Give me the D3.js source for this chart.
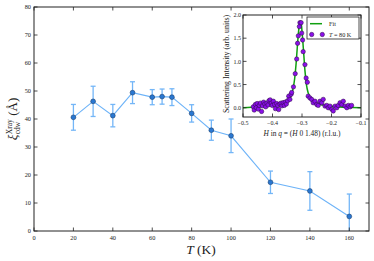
<!DOCTYPE html>
<html><head><meta charset="utf-8">
<script src="https://d3js.org/d3.v7.min.js"></script>
<style>body{margin:0;background:#fff}svg{display:block}text{font-family:"Liberation Serif","DejaVu Serif",serif;fill:#222}</style>
</head><body><svg id="c" width="374" height="261"></svg>
<script>
// Main data
const temps = [20, 30, 40, 50, 60, 65, 70, 80, 90, 100, 120, 140, 160];
const xi    = [40.6, 46.3, 41.2, 49.4, 47.8, 48.0, 47.8, 42.0, 36.0, 34.0, 17.4, 14.3, 5.2];
const xiErr = [4.6, 5.4, 4.0, 3.9, 2.7, 2.7, 3.0, 3.1, 3.6, 6.0, 4.0, 6.9, 8.0];
const xTicks = [0, 20, 40, 60, 80, 100, 120, 140, 160];
const yTicks = [0, 10, 20, 30, 40, 50, 60, 70, 80];
// Inset data
const scanH = [-0.465,-0.462,-0.458,-0.455,-0.452,-0.448,-0.445,-0.441,-0.437,-0.434,-0.430,-0.426,-0.423,-0.419,-0.415,-0.412,-0.408,-0.404,-0.401,-0.397,-0.393,-0.390,-0.386,-0.382,-0.379,-0.375,-0.371,-0.368,-0.364,-0.360,-0.357,-0.353,-0.349,-0.345,-0.341,-0.337,-0.335,-0.329,-0.323,-0.318,-0.315,-0.3125,-0.309,-0.307,-0.303,-0.301,-0.298,-0.296,-0.290,-0.286,-0.282,-0.279,-0.273,-0.267,-0.262,-0.256,-0.250,-0.245,-0.239,-0.233,-0.228,-0.222,-0.216,-0.211,-0.205,-0.199,-0.194,-0.188,-0.182,-0.177,-0.171,-0.165,-0.160,-0.154,-0.148,-0.143,-0.137,-0.132];
const scanI = [0.02,-0.05,0.07,0.0,0.09,-0.03,0.05,0.10,-0.08,0.04,0.12,0.08,0.02,0.10,0.06,0.15,0.17,0.10,0.05,0.14,0.07,-0.02,0.09,0.05,-0.04,0.08,0.10,0.04,0.11,0.05,0.12,0.08,0.15,0.25,0.18,0.29,0.33,0.45,0.735,1.05,1.39,1.55,1.75,1.835,1.835,1.61,1.46,1.21,0.93,0.64,0.55,0.25,0.21,0.178,0.107,0.14,0.07,0.05,0.14,0.107,0.18,0.035,0.05,0.0,0.035,-0.035,-0.07,0.035,0.0,0.05,0.107,0.07,0.14,0.035,0.0,0.05,0.02,0.05];
const fitH = [-0.5,-0.45,-0.40,-0.37,-0.355,-0.345,-0.337,-0.33,-0.325,-0.32,-0.316,-0.312,-0.308,-0.305,-0.302,-0.298,-0.294,-0.29,-0.285,-0.279,-0.272,-0.262,-0.25,-0.23,-0.20,-0.15,-0.1];
const fitI = [0.0,0.02,0.05,0.08,0.11,0.17,0.25,0.42,0.62,0.95,1.3,1.62,1.82,1.86,1.78,1.5,1.15,0.8,0.5,0.32,0.22,0.15,0.1,0.06,0.03,0.01,0.0];
const insetXTicks = [-0.5,-0.4,-0.3,-0.2,-0.1];
const insetYTicks = [0.0,0.5,1.0,1.5,2.0];

const svg = d3.select("#c");
const L=34, R=369, T=7, B=231;
const x = d3.scaleLinear().domain([0,170]).range([L,R]);
const y = d3.scaleLinear().domain([0,80]).range([B,T]);
const fmt = d => String(d).replace("-", "\u2212");

function frame(g, xs, ys, xt, yt, fs, xf, yf, xlabOff, ylabOff){
  const [x0,x1]=xs.range(), [y0,y1]=ys.range();
  g.append("rect").attr("x",x0).attr("y",y1).attr("width",x1-x0).attr("height",y0-y1)
   .attr("fill","none").attr("stroke","#222").attr("stroke-width",1);
  xt.forEach(t=>{
    g.append("line").attr("x1",xs(t)).attr("x2",xs(t)).attr("y1",y0).attr("y2",y0-3.5).attr("stroke","#222").attr("stroke-width",0.8);
    g.append("line").attr("x1",xs(t)).attr("x2",xs(t)).attr("y1",y1).attr("y2",y1+3.5).attr("stroke","#222").attr("stroke-width",0.8);
    g.append("text").attr("x",xs(t)).attr("y",y0+xlabOff).attr("text-anchor","middle").attr("font-size",fs).attr("fill","#333").text(xf(t));
  });
  yt.forEach(t=>{
    g.append("line").attr("x1",x0).attr("x2",x0+3.5).attr("y1",ys(t)).attr("y2",ys(t)).attr("stroke","#222").attr("stroke-width",0.8);
    g.append("line").attr("x1",x1).attr("x2",x1-3.5).attr("y1",ys(t)).attr("y2",ys(t)).attr("stroke","#222").attr("stroke-width",0.8);
    g.append("text").attr("x",x0-ylabOff).attr("y",ys(t)+2.3).attr("text-anchor","end").attr("font-size",fs).attr("fill","#333").text(yf(t));
  });
}

// main plot
const main = svg.append("g");
main.append("defs").append("clipPath").attr("id","mc").append("rect").attr("x",L).attr("y",T).attr("width",R-L).attr("height",B-T);
const pg = main.append("g").attr("clip-path","url(#mc)");
const eb = "#74b6f7";
temps.forEach((t,i)=>{
  const cx=x(t), yt=y(xi[i]+xiErr[i]), yb=y(xi[i]-xiErr[i]);
  pg.append("line").attr("x1",cx).attr("x2",cx).attr("y1",yt).attr("y2",yb).attr("stroke",eb).attr("stroke-width",1.3);
  [yt,yb].forEach(yy=>pg.append("line").attr("x1",cx-2.5).attr("x2",cx+2.5).attr("y1",yy).attr("y2",yy).attr("stroke",eb).attr("stroke-width",1.3));
});
pg.append("path").datum(temps.map((t,i)=>[t,xi[i]]))
  .attr("d",d3.line().x(d=>x(d[0])).y(d=>y(d[1]))).attr("fill","none").attr("stroke","#6db3f8").attr("stroke-width",1.1);
pg.selectAll("circle").data(temps).join("circle").attr("cx",d=>x(d)).attr("cy",(d,i)=>y(xi[i])).attr("r",2.4)
  .attr("fill","#2a78d2").attr("stroke","#1a3f70").attr("stroke-width",0.6);
frame(main, x, y, xTicks, yTicks, 6.3, d=>d, d=>d, 8.5, 3);

// axis labels
const xl = main.append("text").attr("x",201).attr("y",253.5).attr("text-anchor","middle").attr("font-size",13.5);
xl.append("tspan").attr("font-style","italic").text("T");
xl.append("tspan").text(" (K)");

const yl = main.append("g").attr("transform","translate(17,119) rotate(-90)");
const ylabel = yl.append("g");
const t1 = ylabel.append("text").attr("x",0).attr("y",0).attr("font-size",13).attr("font-style","italic").text("\u03BE");
const w1 = t1.node().getComputedTextLength();
const sup = ylabel.append("text").attr("x",w1+0.5).attr("y",-5).attr("font-size",7.5).text("Xray");
const sub = ylabel.append("text").attr("x",w1+0.5).attr("y",3).attr("font-size",7.5).text("cdw");
const w2 = Math.max(sup.node().getComputedTextLength(), sub.node().getComputedTextLength());
const t3 = ylabel.append("text").attr("x",w1+w2+4).attr("y",0).attr("font-size",13).text("(\u00C5)");
const wt = w1+w2+4+t3.node().getComputedTextLength();
ylabel.attr("transform",`translate(${-wt/2},0)`);

// inset
const iL=243, iR=361, iT=15, iB=117;
const ix = d3.scaleLinear().domain([-0.5,-0.1]).range([iL,iR]);
const iy = d3.scaleLinear().domain([-0.2,2.0]).range([iB,iT]);
const inset = svg.append("g");
inset.append("rect").attr("x",iL).attr("y",iT).attr("width",iR-iL).attr("height",iB-iT).attr("fill","#fff");
inset.append("defs").append("clipPath").attr("id","ic").append("rect").attr("x",iL).attr("y",iT).attr("width",iR-iL).attr("height",iB-iT);
const ig = inset.append("g").attr("clip-path","url(#ic)");
ig.append("path").datum(fitH.map((h,i)=>[h,fitI[i]]))
  .attr("d",d3.line().curve(d3.curveMonotoneX).x(d=>ix(d[0])).y(d=>iy(d[1]))).attr("fill","none").attr("stroke","#10a010").attr("stroke-width",1.5);
ig.selectAll("circle").data(scanH).join("circle").attr("cx",d=>ix(d)).attr("cy",(d,i)=>iy(scanI[i])).attr("r",2.2)
  .attr("fill","#8a10e8").attr("stroke","#2a0a40").attr("stroke-width",0.5);
frame(inset, ix, iy, insetXTicks, insetYTicks, 6, d=>fmt(d.toFixed(1)), d=>d.toFixed(1), 7.5, 2);
inset.append("text").attr("transform","translate(229,64) rotate(-90)").attr("text-anchor","middle").attr("font-size",7.9).text("Scattering Intensity (arb. units)");
const il = inset.append("text").attr("x",302).attr("y",135.5).attr("text-anchor","middle").attr("font-size",7.4);
il.append("tspan").attr("font-style","italic").text("H");
il.append("tspan").text(" in ");
il.append("tspan").attr("font-style","italic").text("q");
il.append("tspan").text(" = (");
il.append("tspan").attr("font-style","italic").text("H");
il.append("tspan").text(" 0  1.48) (r.l.u.)");

// legend
inset.append("rect").attr("x",307).attr("y",17).attr("width",52).attr("height",22).attr("fill","#fff").attr("stroke","#222").attr("stroke-width",0.8);
inset.append("line").attr("x1",310).attr("x2",322).attr("y1",23.7).attr("y2",23.7).attr("stroke","#10a010").attr("stroke-width",1.5);
inset.append("text").attr("x",329).attr("y",26).attr("font-size",6.2).text("Fit");
[311.7,322.3].forEach(cx=>inset.append("circle").attr("cx",cx).attr("cy",34.5).attr("r",2.2).attr("fill","#8a10e8").attr("stroke","#2a0a40").attr("stroke-width",0.5));
const lt = inset.append("text").attr("x",329).attr("y",36.8).attr("font-size",6.2);
lt.append("tspan").attr("font-style","italic").text("T");
lt.append("tspan").text(" = 80 K");
</script></body></html>
